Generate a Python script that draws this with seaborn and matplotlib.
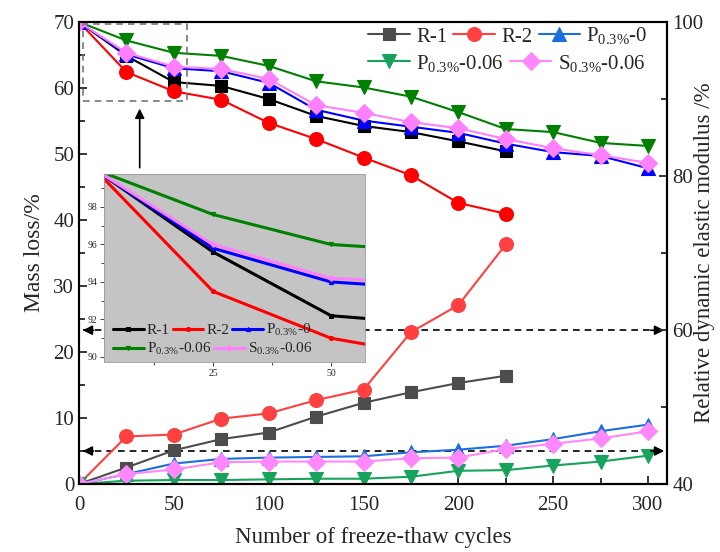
import matplotlib
matplotlib.use("Agg")
import matplotlib.pyplot as plt
import seaborn as sns
import numpy as np

cycles = [0, 25, 50, 75, 100, 125, 150, 175, 200, 225, 250, 275, 300]
labels = ["R-1", "R-2", r"P$_{\mathrm{0.3\%}}$-0", r"P$_{\mathrm{0.3\%}}$-0.06", r"S$_{\mathrm{0.3\%}}$-0.06"]

# mass loss (%), left axis
mass_r1 = [0, 2.5, 5.1, 6.8, 7.8, 10.2, 12.3, 13.9, 15.3, 16.4]
mass_r2 = [0, 7.2, 7.5, 9.9, 10.7, 12.7, 14.3, 23.0, 27.1, 36.3]
mass_p0 = [0, 1.5, 3.1, 3.8, 4.0, 4.1, 4.2, 4.8, 5.2, 5.8, 6.8, 8.0, 9.0]
mass_p006 = [0, 0.5, 0.6, 0.6, 0.7, 0.8, 0.8, 1.1, 2.0, 2.1, 2.8, 3.4, 4.3]
mass_s006 = [0, 1.5, 2.2, 3.3, 3.4, 3.4, 3.4, 3.9, 4.0, 5.3, 6.1, 6.9, 8.0]

# relative dynamic elastic modulus (%), right axis
mod_r1 = [100, 95.6, 92.2, 91.7, 90.0, 87.8, 86.5, 85.7, 84.5, 83.2]
mod_r2 = [100, 93.5, 91.0, 89.9, 86.9, 84.8, 82.4, 80.1, 76.5, 75.1]
mod_p0 = [100, 95.8, 94.0, 93.6, 92.1, 88.6, 87.2, 86.4, 85.6, 84.2, 83.1, 82.6, 81.0]
mod_p006 = [100, 97.6, 96.0, 95.6, 94.3, 92.3, 91.5, 90.3, 88.3, 86.1, 85.7, 84.3, 83.9]
mod_s006 = [100, 96.0, 94.2, 93.9, 92.6, 89.2, 88.2, 87.0, 86.2, 84.8, 83.6, 82.7, 81.7]

mass_sets = [mass_r1, mass_r2, mass_p0, mass_p006, mass_s006]
mod_sets = [mod_r1, mod_r2, mod_p0, mod_p006, mod_s006]
markers = ["s", "o", "^", "v", "D"]
mass_colors = ["#4d4d4d", "#ff4040", "#1a6fe0", "#17a35b", "#ff88ff"]
mod_colors = ["#000000", "#ff0000", "#0000ff", "#008000", "#ff80ff"]
msizes = [9, 10, 10, 10, 9]

sns.set_theme(style="ticks")
plt.rcParams["font.family"] = ["Liberation Serif", "DejaVu Serif"]
plt.rcParams["mathtext.fontset"] = "custom"
plt.rcParams["mathtext.rm"] = "Liberation Serif"
plt.rcParams["mathtext.it"] = "Liberation Serif:italic"

fig = plt.figure(figsize=(7.2, 5.52), dpi=100)
ax = fig.add_axes([79/720, 1-484/552, (667-79)/720, (484-22)/552])
ax2 = ax.twinx()

for i in range(5):
    n = len(mass_sets[i])
    sns.lineplot(x=cycles[:n], y=mass_sets[i], ax=ax, color=mass_colors[i],
                 marker=markers[i], markersize=msizes[i], linewidth=1.5,
                 markeredgecolor=mass_colors[i], markeredgewidth=0.8, label=labels[i], legend=False)
    n2 = len(mod_sets[i])
    sns.lineplot(x=cycles[:n2], y=mod_sets[i], ax=ax2, color=mod_colors[i],
                 marker=markers[i], markersize=msizes[i], linewidth=1.5,
                 markeredgecolor=mod_colors[i], markeredgewidth=0.8, legend=False)

ax.set_xlim(0, 310)
ax.set_ylim(0, 70)
ax2.set_ylim(40, 100)
ax.set_xticks([0, 50, 100, 150, 200, 250, 300])
ax.set_xticks([25, 75, 125, 175, 225, 275], minor=True)
ax.set_yticks(range(0, 71, 10))
ax.set_yticks(range(5, 70, 10), minor=True)
ax2.set_yticks([40, 60, 80, 100])
ax2.set_yticks([50, 70, 90], minor=True)
for a in (ax, ax2):
    a.tick_params(which="both", direction="in", labelsize=15, width=1.3)
    a.tick_params(which="major", length=6)
    a.tick_params(which="minor", length=4)
    for s in a.spines.values():
        s.set_linewidth(1.5)
        s.set_color("black")
ax.tick_params(axis="x", pad=9)
ax2.tick_params(axis="y", pad=4)
ax.set_xlabel("Number of freeze-thaw cycles", fontsize=16.5)
ax.xaxis.set_label_coords(0.5, -(527-484)/462)
ax.xaxis.label.set_verticalalignment("top")
ax.set_ylabel("Mass loss/%", fontsize=17, labelpad=6)
ax2.set_ylabel("Relative dynamic elastic modulus /%", fontsize=16.5)
ax2.yaxis.set_label_coords((694-79)/588, 0.5)

# legend: two rows drawn as two legends
h, l = ax.get_legend_handles_labels()
leg_kw = dict(frameon=False, fontsize=15, columnspacing=0.3, handlelength=2.0,
              handletextpad=0.3, borderaxespad=0, borderpad=0, loc="center left")
leg1 = ax.legend(h[:3], l[:3], ncol=3, bbox_to_anchor=((368-79)/588, 1-(36-22)/462), **leg_kw)
ax.add_artist(leg1)
ax.legend(h[3:], l[3:], ncol=2, bbox_to_anchor=((368-79)/588, 1-(63-22)/462), **leg_kw)

# dashed reference lines with arrow heads
for yv in [23.3, 5.0]:
    ax.hlines(yv, 2, 308, colors="black", linestyles=(0, (4, 3)), linewidth=1.2, zorder=1)
    ax.annotate("", xy=(0.5, yv), xytext=(9, yv),
                arrowprops=dict(arrowstyle="-|>", color="black", lw=1.2, mutation_scale=14))
    ax.annotate("", xy=(310, yv), xytext=(300, yv),
                arrowprops=dict(arrowstyle="-|>", color="black", lw=1.2, mutation_scale=14))

# dashed zoom box (inset region) and arrow
ix0, ix1, iy0, iy1 = 1.9, 57.2, 89.73, 99.76
ax2.plot([ix0, ix1, ix1, ix0, ix0], [iy0, iy0, iy1, iy1, iy0], color="#777777",
         linestyle=(0, (4, 3)), linewidth=1.2)
ax.annotate("", xy=(32, 57.3), xytext=(32, 47.5),
            arrowprops=dict(arrowstyle="-|>", color="black", lw=1.2, mutation_scale=14))

# inset
axi = fig.add_axes([104/720, 1-362/552, 261/720, 188/552])
axi.set_facecolor("#c4c4c4")
for i in range(5):
    n2 = len(mod_sets[i])
    sns.lineplot(x=cycles[:n2], y=mod_sets[i], ax=axi, color=mod_colors[i],
                 marker=markers[i], markersize=3, linewidth=2.2,
                 markeredgecolor=mod_colors[i], label=labels[i], legend=False)
axi.set_xlim(ix0, ix1)
axi.set_ylim(iy0, iy1)
axi.set_xticks([25, 50])
axi.set_xticks([12.5, 37.5], minor=True)
axi.set_yticks([90, 92, 94, 96, 98])
axi.set_yticks([91, 93, 95, 97, 99], minor=True)
axi.tick_params(which="both", direction="out", labelsize=7, width=0.6, pad=2)
axi.tick_params(which="major", length=3)
axi.tick_params(which="minor", length=2)
for s in axi.spines.values():
    s.set_linewidth(0.6)
    s.set_color("#999999")
hi, li = axi.get_legend_handles_labels()
ileg_kw = dict(frameon=False, fontsize=11, columnspacing=0.2, handlelength=2.0,
               handletextpad=0.2, borderaxespad=0, borderpad=0, loc="center left")
il1 = axi.legend(hi[:3], li[:3], ncol=3, bbox_to_anchor=(9/261, (362-330)/188), **ileg_kw)
axi.add_artist(il1)
axi.legend(hi[3:], li[3:], ncol=2, bbox_to_anchor=(9/261, (362-349)/188), **ileg_kw)

fig.savefig("out.png", dpi=100)
